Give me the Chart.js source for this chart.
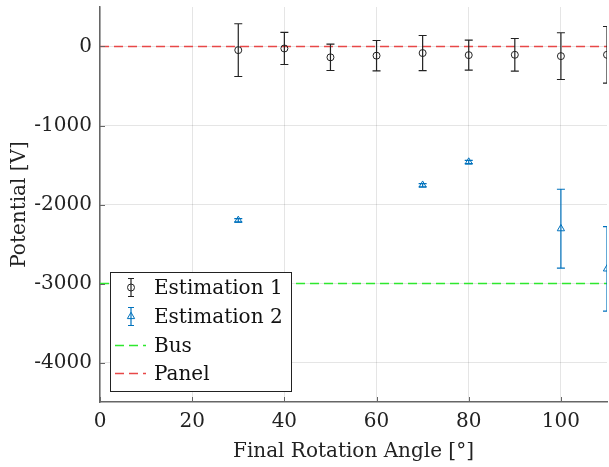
<!DOCTYPE html>
<html>
<head>
<meta charset="utf-8">
<script src="https://cdn.jsdelivr.net/npm/chart.js@4.4.1/dist/chart.umd.min.js"></script>
<style>
  html, body { margin: 0; padding: 0; background: #fff; }
  #wrap { width: 609px; height: 467px; position: relative; }
</style>
</head>
<body>
<div id="wrap"><canvas id="graph"></canvas></div>
<script>
const angles1 = [30, 40, 50, 60, 70, 80, 90, 100, 110];
const est1Values = [-46, -25, -137, -116, -83, -109, -105, -122, -105];
const est1Errors = [334, 203, 167, 192, 222, 190, 206, 296, 358];

const angles2 = [30, 70, 80, 100, 110];
const est2Values = [-2200, -1755, -1462, -2306, -2815];
const est2Errors = [20, 20, 20, 499, 535];

const busLevel = -3000;
const panelLevel = 0;
const lineRange = [0, 110];

const xTicks = [0, 20, 40, 60, 80, 100];
const yTicks = [0, -1000, -2000, -3000, -4000];

const legendLabels = ['Estimation 1', 'Estimation 2', 'Bus', 'Panel'];

const FONT = 'DejaVu Serif';
const BLACK = '#222222';
const BLUE = '#0072BD';
const GREEN = '#2ee82e';
const RED = '#e84848';
const AXIS = '#666666';

function toPoints(xs, ys) {
  return xs.map((x, i) => ({ x: x, y: ys[i] }));
}

// Fehlerbalken ueber die Skalen zeichnen
const errorBars = {
  id: 'errorBars',
  afterDatasetsDraw(chart) {
    const ctx = chart.ctx;
    const xs = chart.scales.x;
    const ys = chart.scales.y;
    const area = chart.chartArea;
    ctx.save();
    ctx.beginPath();
    ctx.rect(area.left, area.top, area.right - area.left, area.bottom - area.top);
    ctx.clip();
    chart.data.datasets.forEach((ds) => {
      if (!ds.errors) return;
      ctx.strokeStyle = ds.borderColor;
      ctx.lineWidth = 1.2;
      ds.data.forEach((p, i) => {
        const px = xs.getPixelForValue(p.x);
        const top = ys.getPixelForValue(p.y + ds.errors[i]);
        const bot = ys.getPixelForValue(p.y - ds.errors[i]);
        ctx.beginPath();
        ctx.moveTo(px, top);
        ctx.lineTo(px, bot);
        ctx.moveTo(px - 4, top);
        ctx.lineTo(px + 4, top);
        ctx.moveTo(px - 4, bot);
        ctx.lineTo(px + 4, bot);
        ctx.stroke();
      });
    });
    ctx.restore();
  },
};

// Tick-Striche nach innen
const innerTicks = {
  id: 'innerTicks',
  afterDraw(chart) {
    const ctx = chart.ctx;
    const area = chart.chartArea;
    ctx.save();
    ctx.strokeStyle = AXIS;
    ctx.lineWidth = 1;
    ctx.beginPath();
    xTicks.forEach((v) => {
      const px = Math.round(chart.scales.x.getPixelForValue(v)) + 0.5;
      ctx.moveTo(px, area.bottom);
      ctx.lineTo(px, area.bottom - 5);
    });
    yTicks.forEach((v) => {
      const py = Math.round(chart.scales.y.getPixelForValue(v)) + 0.5;
      ctx.moveTo(area.left, py);
      ctx.lineTo(area.left + 5, py);
    });
    ctx.stroke();
    ctx.restore();
  },
};

function drawMarker(ctx, style, x, y) {
  ctx.beginPath();
  if (style === 'circle') {
    ctx.arc(x, y, 3.5, 0, Math.PI * 2);
  } else {
    const r = 4.2;
    ctx.moveTo(x, y - r);
    ctx.lineTo(x + r * 0.866, y + r * 0.5);
    ctx.lineTo(x - r * 0.866, y + r * 0.5);
    ctx.closePath();
  }
  ctx.stroke();
}

// Legende im Diagramm unten links
const boxLegend = {
  id: 'boxLegend',
  afterDraw(chart) {
    const ctx = chart.ctx;
    const bx = 110.5, by = 272.5, bw = 181, bh = 119;
    ctx.save();
    ctx.fillStyle = '#fff';
    ctx.fillRect(bx, by, bw, bh);
    ctx.strokeStyle = '#222';
    ctx.lineWidth = 1;
    ctx.strokeRect(bx, by, bw, bh);
    const rows = [287.5, 316.5, 345.5, 373.5];
    const ds = chart.data.datasets;
    ctx.font = '20px "' + FONT + '"';
    ctx.textBaseline = 'middle';
    rows.forEach((y, i) => {
      const d = ds[i];
      ctx.strokeStyle = d.borderColor;
      if (d.errors) {
        ctx.lineWidth = 1.2;
        ctx.beginPath();
        ctx.moveTo(131, y - 9);
        ctx.lineTo(131, y + 9);
        ctx.moveTo(128, y - 9);
        ctx.lineTo(134, y - 9);
        ctx.moveTo(128, y + 9);
        ctx.lineTo(134, y + 9);
        ctx.stroke();
        ctx.lineWidth = 1;
        drawMarker(ctx, d.pointStyle, 131, y);
      } else {
        ctx.lineWidth = 1.5;
        ctx.setLineDash([9, 5]);
        ctx.beginPath();
        ctx.moveTo(115, y);
        ctx.lineTo(146, y);
        ctx.stroke();
        ctx.setLineDash([]);
      }
      ctx.fillStyle = '#111';
      ctx.fillText(legendLabels[i], 154, y + 1);
    });
    ctx.restore();
  },
};

const ctx = document.getElementById('graph').getContext('2d');

const chart = new Chart(ctx, {
  type: 'scatter',
  data: {
    datasets: [
      {
        label: legendLabels[0],
        data: toPoints(angles1, est1Values),
        errors: est1Errors,
        borderColor: BLACK,
        backgroundColor: 'rgba(0,0,0,0)',
        pointStyle: 'circle',
        pointRadius: 3.5,
        borderWidth: 1,
        clip: 0,
        order: 1,
      },
      {
        label: legendLabels[1],
        data: toPoints(angles2, est2Values),
        errors: est2Errors,
        borderColor: BLUE,
        backgroundColor: 'rgba(0,0,0,0)',
        pointStyle: 'triangle',
        pointRadius: 4.2,
        borderWidth: 1,
        clip: 0,
        order: 1,
      },
      {
        label: legendLabels[2],
        data: toPoints(lineRange, [busLevel, busLevel]),
        borderColor: GREEN,
        borderWidth: 1.4,
        borderDash: [9, 5],
        showLine: true,
        pointRadius: 0,
        clip: 0,
        order: 2,
      },
      {
        label: legendLabels[3],
        data: toPoints(lineRange, [panelLevel, panelLevel]),
        borderColor: RED,
        borderWidth: 1.4,
        borderDash: [9, 5],
        showLine: true,
        pointRadius: 0,
        clip: 0,
        order: 2,
      },
    ],
  },
  options: {
    responsive: true,
    maintainAspectRatio: false,
    animation: false,
    layout: { autoPadding: false, padding: { top: 7, right: 2, left: 0, bottom: 0 } },
    plugins: {
      legend: { display: false },
      tooltip: { enabled: false },
    },
    scales: {
      x: {
        type: 'linear',
        min: 0,
        max: 110,
        afterBuildTicks: (axis) => {
          axis.ticks = xTicks.map((v) => ({ value: v }));
        },
        afterFit: (axis) => {
          axis.height = 65;
          axis.paddingLeft = 0;
          axis.paddingRight = 0;
        },
        grid: { color: 'rgba(0,0,0,0.1)', drawTicks: false },
        border: { color: AXIS, width: 1.5 },
        ticks: {
          color: '#222',
          padding: 8,
          maxRotation: 0,
          font: { family: FONT, size: 20 },
          callback: (v) => String(v),
        },
        title: {
          display: true,
          text: 'Final Rotation Angle [°]',
          color: '#222',
          font: { family: FONT, size: 20 },
          padding: { top: 0, bottom: 3 },
        },
      },
      y: {
        type: 'linear',
        min: -4500,
        max: 500,
        afterBuildTicks: (axis) => {
          axis.ticks = yTicks.map((v) => ({ value: v }));
        },
        afterFit: (axis) => {
          axis.width = 100;
          axis.paddingTop = 0;
          axis.paddingBottom = 0;
        },
        grid: { color: 'rgba(0,0,0,0.1)', drawTicks: false },
        border: { color: AXIS, width: 1.5 },
        ticks: {
          color: '#222',
          padding: 8,
          font: { family: FONT, size: 20 },
          callback: (v) => String(v),
        },
        title: {
          display: true,
          text: 'Potential [V]',
          color: '#222',
          font: { family: FONT, size: 20 },
          padding: { top: 8, bottom: 0 },
        },
      },
    },
  },
  plugins: [errorBars, innerTicks, boxLegend],
});
</script>
</body>
</html>
